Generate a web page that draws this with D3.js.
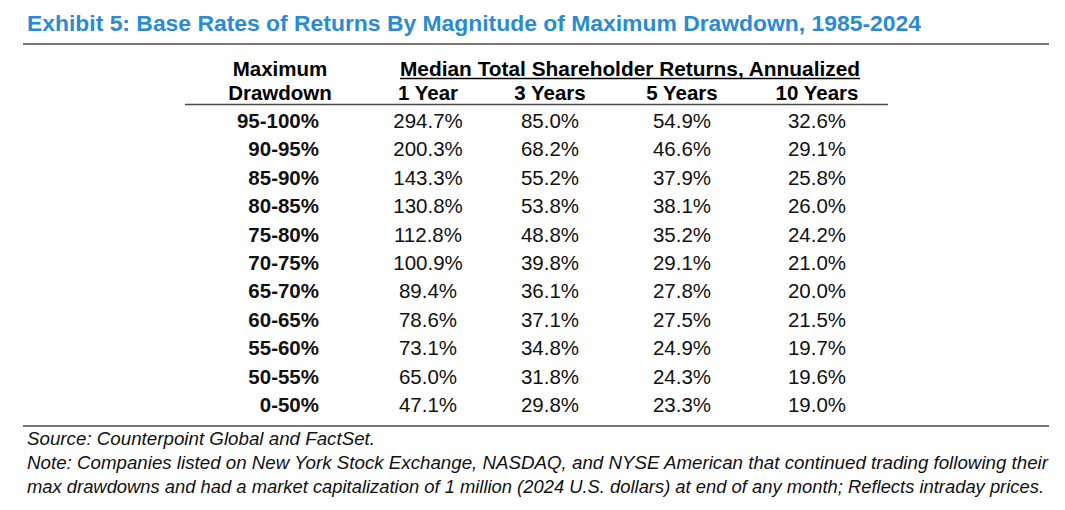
<!DOCTYPE html>
<html>
<head>
<meta charset="utf-8">
<script src="https://cdn.jsdelivr.net/npm/d3@7"></script>
<style>
  html, body { margin: 0; padding: 0; background: #fff; }
  svg { display: block; font-family: "Liberation Sans", Arial, sans-serif; }
</style>
</head>
<body>
<svg id="chart"></svg>
<script>
const title = "Exhibit 5: Base Rates of Returns By Magnitude of Maximum Drawdown, 1985-2024";
const rowHeader = ["Maximum", "Drawdown"];
const groupHeader = "Median Total Shareholder Returns, Annualized";
const periods = ["1 Year", "3 Years", "5 Years", "10 Years"];
const drawdowns = ["95-100%", "90-95%", "85-90%", "80-85%", "75-80%", "70-75%",
  "65-70%", "60-65%", "55-60%", "50-55%", "0-50%"];

// median annualized TSR (%) per drawdown bucket
const oneYear = [294.7, 200.3, 143.3, 130.8, 112.8, 100.9, 89.4, 78.6, 73.1, 65.0, 47.1];
const threeYears = [85.0, 68.2, 55.2, 53.8, 48.8, 39.8, 36.1, 37.1, 34.8, 31.8, 29.8];
const fiveYears = [54.9, 46.6, 37.9, 38.1, 35.2, 29.1, 27.8, 27.5, 24.9, 24.3, 23.3];
const tenYears = [32.6, 29.1, 25.8, 26.0, 24.2, 21.0, 20.0, 21.5, 19.7, 19.6, 19.0];

const footnotes = [
  "Source: Counterpoint Global and FactSet.",
  "Note: Companies listed on New York Stock Exchange, NASDAQ, and NYSE American that continued trading following their",
  "max drawdowns and had a market capitalization of 1 million (2024 U.S. dollars) at end of any month; Reflects intraday prices."
];

const width = 1065;
const height = 510;

const svg = d3.select("#chart")
  .attr("width", width)
  .attr("height", height);

const series = [oneYear, threeYears, fiveYears, tenYears];
const cells = [];
drawdowns.forEach((d, i) => {
  periods.forEach((p, j) => cells.push({ row: d, col: p, value: series[j][i] }));
});

const x = d3.scaleOrdinal()
  .domain(periods)
  .range([428, 550, 682, 817]);

const y = d3.scalePoint()
  .domain(drawdowns)
  .range([128, 412]);

const fmt = d3.format(".1f");

// title
svg.append("text")
  .attr("x", 27)
  .attr("y", 30.5)
  .attr("fill", "#2a8bd2")
  .attr("font-size", 22.8)
  .attr("font-weight", "bold")
  .attr("textLength", 894)
  .attr("lengthAdjust", "spacingAndGlyphs")
  .text(title);

const rule = (x1, x2, yy, w) => svg.append("line")
  .attr("x1", x1).attr("x2", x2)
  .attr("y1", yy).attr("y2", yy)
  .attr("stroke", "#4a4a4a")
  .attr("stroke-width", w);

rule(23, 1049, 44, 1.6);
rule(185, 888, 104.5, 1.4);
rule(23, 1049, 426, 1.4);

// header
svg.selectAll(".rowhead")
  .data(rowHeader)
  .join("text")
  .attr("class", "rowhead")
  .attr("x", 280)
  .attr("y", (d, i) => 76 + i * 24)
  .attr("text-anchor", "middle")
  .attr("font-size", 20.5)
  .attr("font-weight", "bold")
  .text(d => d);

const group = svg.append("text")
  .attr("x", 630)
  .attr("y", 76)
  .attr("text-anchor", "middle")
  .attr("font-size", 20.5)
  .attr("font-weight", "bold")
  .attr("textLength", 460)
  .attr("lengthAdjust", "spacingAndGlyphs")
  .text(groupHeader);

const gb = group.node().getBBox();
svg.append("line")
  .attr("x1", gb.x).attr("x2", gb.x + gb.width)
  .attr("y1", 78.5).attr("y2", 78.5)
  .attr("stroke", "#000")
  .attr("stroke-width", 1.6);

svg.selectAll(".colhead")
  .data(periods)
  .join("text")
  .attr("class", "colhead")
  .attr("x", d => x(d))
  .attr("y", 100)
  .attr("text-anchor", "middle")
  .attr("font-size", 20.5)
  .attr("font-weight", "bold")
  .text(d => d);

// body
svg.selectAll(".rowlabel")
  .data(drawdowns)
  .join("text")
  .attr("class", "rowlabel")
  .attr("x", 319)
  .attr("y", d => y(d))
  .attr("text-anchor", "end")
  .attr("font-size", 20.5)
  .attr("font-weight", "bold")
  .attr("fill", "#111")
  .text(d => d);

svg.selectAll(".cell")
  .data(cells)
  .join("text")
  .attr("class", "cell")
  .attr("x", d => x(d.col))
  .attr("y", d => y(d.row))
  .attr("text-anchor", "middle")
  .attr("font-size", 20.5)
  .attr("fill", "#111")
  .text(d => fmt(d.value) + "%");

// footnotes
const noteLengths = [348, 1021, 1017];
svg.selectAll(".note")
  .data(footnotes)
  .join("text")
  .attr("class", "note")
  .attr("x", 27)
  .attr("y", (d, i) => 445 + i * 24)
  .attr("font-size", 18.5)
  .attr("font-style", "italic")
  .attr("fill", "#111")
  .attr("textLength", (d, i) => noteLengths[i])
  .attr("lengthAdjust", "spacingAndGlyphs")
  .text(d => d);
</script>
</body>
</html>
